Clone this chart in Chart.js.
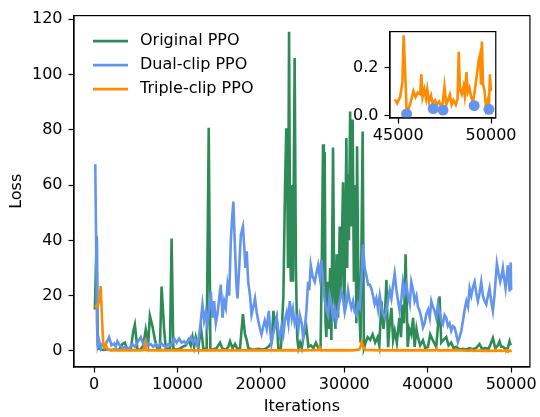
<!DOCTYPE html>
<html>
<head>
<meta charset="utf-8">
<script src="https://cdn.jsdelivr.net/npm/chart.js@4.4.0/dist/chart.umd.min.js"></script>
<style>
  body { margin: 0; background: #fff; }
  #wrap { position: relative; width: 540px; height: 417px; }
  #main { position: absolute; left: 0; top: 0; }
  #inset { position: absolute; left: 330px; top: 16px; }
</style>
</head>
<body>
<div id="wrap">
  <canvas id="main" width="540" height="417"></canvas>
  <canvas id="inset" width="190" height="134"></canvas>
</div>
<script>
// [iteration, loss] pairs
const originalPPO = [
  [100, 15], [320, 41.5], [450, 2], [600, 0.8], [900, 0.5], [1200, 0.4], [1500, 0.6], [2000, 0.3],
  [2500, 0.5], [3000, 0.4], [3400, 2.5], [3700, 3], [4000, 0.5], [4400, 0.4], [4700, 7], [4900, 9.5],
  [5200, 0.5], [5600, 0.6], [5900, 2], [6200, 7.8], [6500, 3], [6700, 12.7], [7000, 9], [7300, 4],
  [7600, 0.6], [7900, 1], [8100, 23.3], [8400, 8], [8600, 1], [8900, 0.8], [9100, 0.6], [9300, 40.7],
  [9500, 1], [9800, 0.5], [10200, 0.7], [10600, 1.5], [11000, 2], [11300, 4], [11600, 2], [11800, 5],
  [12000, 1.5], [12200, 5], [12500, 1], [12800, 8.5], [13100, 1], [13500, 0.5], [13750, 80.7], [13950, 0.5],
  [14300, 0.6], [14700, 1], [15100, 3], [15400, 0.8], [15800, 0.5], [16100, 1.5], [16300, 3.5], [16600, 1],
  [16900, 2.5], [17200, 0.6], [17500, 1], [17850, 13.3], [18100, 6], [18300, 4], [18500, 1], [18900, 0.6],
  [19300, 0.5], [19700, 0.8], [20100, 0.5], [20500, 0.7], [20900, 1.5], [21300, 3], [21500, 14.5], [21700, 9.7],
  [21900, 12], [22100, 0.5], [22400, 0.8], [22700, 20], [22900, 60], [23050, 80.5], [23150, 69], [23250, 30],
  [23380, 115.5], [23500, 40], [23600, 25], [23700, 60], [23850, 25], [24050, 106], [24200, 30], [24350, 5],
  [24500, 1], [24700, 3], [24900, 1], [25100, 5], [25450, 8.5], [25700, 1.5], [26000, 2], [26300, 1],
  [26600, 3], [26900, 1], [27150, 0.5], [27300, 30], [27450, 74.8], [27550, 25], [27650, 72], [27750, 10],
  [27850, 5], [28000, 25], [28150, 8], [28300, 30], [28450, 4], [28650, 73.6], [28800, 20], [28950, 8],
  [29100, 35], [29250, 12], [29450, 45], [29600, 20], [29850, 61], [30000, 15], [30150, 50], [30250, 77],
  [30350, 30], [30450, 64], [30550, 40], [30700, 86.6], [30850, 45], [31000, 83.7], [31150, 25], [31300, 60],
  [31450, 10], [31530, 74], [31650, 35], [31800, 15], [31950, 3], [32100, 50], [32200, 79.4], [32350, 1],
  [32550, 3], [32800, 5], [33100, 4], [33400, 6], [33700, 3], [34000, 5], [34200, 2], [34450, 18],
  [34700, 8], [34900, 15], [35050, 25.7], [35250, 1.4], [35450, 10], [35650, 15.6], [35850, 4], [36050, 7.3],
  [36300, 3], [36600, 12], [36800, 5], [36960, 16.8], [37150, 10], [37350, 35], [37600, 1.4], [37800, 8],
  [38030, 6], [38250, 12], [38430, 1.5], [38650, 8], [38830, 5], [39100, 2], [39430, 3.8], [39700, 1],
  [40030, 1.5], [40300, 6], [40620, 3.8], [41020, 1.5], [41250, 10], [41420, 19.8], [41620, 3], [41900, 4],
  [42220, 5], [42500, 2], [42820, 3], [43100, 1], [43420, 1.5], [43820, 0.5], [44200, 0.8], [44600, 0.5],
  [45000, 1], [45400, 0.6], [45800, 1], [46210, 2.5], [46500, 0.8], [46900, 1], [47300, 0.7], [47600, 3],
  [47810, 4.7], [48100, 1], [48400, 2], [48610, 3.5], [48800, 1.5], [49010, 1.5], [49300, 0.8], [49600, 1],
  [49810, 3.5], [49950, 2]
];

const dualClipPPO = [
  [150, 67.5], [250, 40], [350, 10], [450, 2], [600, 3.8], [800, 1], [1000, 2.5], [1200, 1.5],
  [1500, 3], [1800, 5], [2100, 2], [2400, 2.7], [2600, 1.5], [2800, 3.5], [3100, 2], [3400, 1],
  [3700, 1.5], [4000, 0.8], [4300, 1.2], [4600, 2.5], [4900, 1.5], [5200, 3], [5600, 5], [5900, 2.5],
  [6200, 4], [6500, 2], [6800, 2.5], [7100, 1.5], [7400, 2.5], [7700, 1.5], [8000, 3], [8300, 2],
  [8600, 1.5], [8900, 2.5], [9200, 2], [9600, 4.5], [9900, 3], [10200, 4.5], [10500, 3], [10800, 3.5],
  [11100, 2.5], [11400, 4], [11600, 5], [11900, 3], [12100, 4.5], [12400, 2], [12700, 8], [13000, 16.8],
  [13200, 11], [13400, 14], [13600, 9], [13800, 16], [14000, 21.5], [14200, 12], [14400, 18], [14600, 10],
  [14800, 13.4], [15000, 19], [15200, 24], [15400, 12], [15600, 18], [15800, 15.6], [16000, 24], [16200, 20],
  [16400, 40], [16550, 48], [16700, 54], [16900, 37], [17050, 25], [17200, 19], [17400, 30], [17600, 42],
  [17850, 45], [18000, 38], [18150, 30], [18300, 36], [18480, 25], [18700, 20], [18880, 13], [19100, 16],
  [19300, 19], [19500, 14], [19680, 11], [19900, 8], [20080, 6], [20300, 9], [20470, 11], [20700, 8],
  [20950, 14.5], [21100, 8], [21270, 2.7], [21450, 6], [21670, 8.5], [21900, 12], [22100, 7], [22270, 5],
  [22500, 9], [22700, 6], [22870, 11], [23100, 14], [23300, 10], [23460, 18], [23700, 12], [23850, 15],
  [24060, 9.8], [24300, 12], [24500, 8], [24660, 13], [24900, 10], [25060, 5], [25260, 8.5], [25450, 14],
  [25660, 25], [25800, 22], [25980, 31], [26200, 27], [26460, 25], [26650, 28], [26860, 31], [27050, 27],
  [27260, 33], [27450, 25], [27660, 18], [27850, 15], [28050, 13], [28250, 20], [28450, 17], [28650, 12],
  [28850, 15], [29050, 11], [29250, 15], [29450, 18], [29650, 21.5], [29850, 19], [30050, 14], [30250, 17],
  [30450, 22], [30650, 18], [30850, 15.6], [31050, 18], [31250, 14], [31450, 13], [31650, 17], [31850, 15.6],
  [32050, 25], [32240, 38.5], [32450, 30], [32640, 27.5], [32850, 24], [33040, 24], [33240, 22.7], [33450, 20],
  [33640, 17], [33840, 19], [34050, 15], [34250, 20], [34450, 16], [34640, 13.4], [34850, 12], [35050, 15],
  [35240, 18], [35450, 22], [35650, 19], [35850, 24], [36040, 28], [36250, 22], [36450, 18], [36630, 14.5],
  [36850, 19], [37030, 25], [37250, 21], [37450, 24], [37630, 20], [37850, 17], [38030, 25], [38250, 22],
  [38430, 18], [38650, 20], [38830, 16], [39030, 14.5], [39230, 12], [39430, 8.5], [39630, 10], [39830, 13.3],
  [40050, 15], [40250, 12], [40430, 18], [40620, 16], [40820, 14.5], [41020, 12], [41220, 16.8], [41420, 14],
  [41620, 11], [41820, 9.7], [42020, 13], [42220, 12], [42420, 9], [42620, 10], [42820, 7.3], [43020, 9],
  [43220, 8.5], [43420, 6], [43620, 3.2], [43820, 5], [44030, 7.3], [44230, 11], [44430, 15], [44630, 18],
  [44830, 16], [45020, 22.7], [45220, 20], [45420, 23], [45620, 25], [45820, 21], [46010, 18], [46220, 21],
  [46420, 25], [46620, 20], [46820, 18], [47020, 16.8], [47220, 20], [47410, 22.7], [47610, 18], [47810, 14.5],
  [48000, 20], [48150, 26], [48290, 31.6], [48490, 28], [48690, 25], [48850, 27], [49010, 30], [49170, 26],
  [49330, 22.7], [49470, 27], [49610, 31], [49810, 21.5], [49900, 25], [49950, 32], [50000, 22]
];

const tripleClipEarly = [
  [100, 16.5], [300, 16], [500, 17], [650, 18], [800, 23.5], [950, 12], [1100, 3], [1250, 1.5],
  [1400, 2.5], [1600, 0.5], [2000, 0.3], [2600, 0.2], [3300, 0.3], [4000, 0.2], [4800, 0.3], [5500, 0.2],
  [6000, 0.3], [6150, 2.8], [6300, 0.3], [7000, 0.2], [8000, 0.3], [9000, 0.2], [10000, 0.3], [11500, 0.2],
  [13000, 0.2], [14500, 0.3], [16000, 0.2], [17500, 0.2], [19000, 0.3], [20500, 0.2], [22000, 0.2], [23500, 0.3],
  [25000, 0.2], [26500, 0.3], [26900, 0.3], [27050, 1.3], [27200, 0.3], [28000, 0.2], [29500, 0.3], [31000, 0.2],
  [31800, 0.5], [32000, 2], [32100, 3.2], [32250, 1.5], [32500, 0.4], [33500, 0.3], [35000, 0.2], [36500, 0.3],
  [38000, 0.2], [39500, 0.3], [40900, 0.2], [41050, 0.8], [41200, 0.2], [42500, 0.3], [44000, 0.2]
];

// last part of the triple-clip curve, as seen in the inset
const tripleClipLate = [
  [44820, 0.068], [44940, 0.052], [45100, 0.078], [45225, 0.141], [45290, 0.335], [45380, 0.167], [45450, 0.014],
  [45575, 0.033], [45700, 0.065], [45815, 0.103], [45930, 0.078], [46050, 0.097], [46180, 0.09], [46245, 0.173],
  [46310, 0.078], [46410, 0.11], [46500, 0.071], [46565, 0.11], [46660, 0.059], [46770, 0.084], [46850, 0.052],
  [46980, 0.065], [47090, 0.046], [47200, 0.059], [47300, 0.04], [47395, 0.052], [47490, 0.122], [47585, 0.046],
  [47680, 0.065], [47780, 0.088], [47875, 0.046], [47970, 0.065], [48100, 0.046], [48195, 0.071], [48260, 0.266],
  [48325, 0.11], [48420, 0.09], [48515, 0.122], [48580, 0.084], [48675, 0.182], [48740, 0.097], [48835, 0.116],
  [48930, 0.078], [49025, 0.052], [49120, 0.103], [49250, 0.179], [49330, 0.23], [49410, 0.256], [49455, 0.129],
  [49505, 0.309], [49570, 0.129], [49650, 0.103], [49730, 0.033], [49810, 0.059], [49880, 0.021], [49940, 0.173],
  [49990, 0.103]
];

const insetMarks = [[45450, 0.008], [46885, 0.03], [47410, 0.024], [49090, 0.042], [49885, 0.027]];

const seriesNames = ['Original PPO', 'Dual-clip PPO', 'Triple-clip PPO'];
const xTicks = [0, 10000, 20000, 30000, 40000, 50000];
const yTicks = [0, 20, 40, 60, 80, 100, 120];
const insetXTicks = [45000, 50000];
const insetYTicks = [0, 0.2];

const GREEN = '#2e8b57', BLUE = '#6495ed', ORANGE = '#ff8c00';
const FONT = { family: "'DejaVu Sans'", size: 16 };
const LW = 2.6;

const toXY = arr => arr.map(p => ({ x: p[0], y: p[1] }));

const frame = {
  id: 'frame',
  beforeDraw(chart, args, opts) {
    if (!opts.fill) return;
    const a = chart.chartArea, ctx = chart.ctx;
    ctx.save();
    ctx.fillStyle = '#fff';
    ctx.fillRect(a.left, a.top, a.right - a.left, a.bottom - a.top);
    ctx.restore();
  },
  afterDraw(chart) {
    const a = chart.chartArea, ctx = chart.ctx;
    ctx.save();
    ctx.strokeStyle = '#000';
    ctx.lineWidth = 1.2;
    ctx.strokeRect(a.left, a.top, a.right - a.left, a.bottom - a.top);
    ctx.restore();
  }
};

const lineLegend = {
  id: 'lineLegend',
  afterDraw(chart) {
    const a = chart.chartArea, ctx = chart.ctx;
    const colors = [GREEN, BLUE, ORANGE];
    ctx.save();
    ctx.font = FONT.size + 'px ' + FONT.family;
    ctx.textBaseline = 'middle';
    seriesNames.forEach((name, i) => {
      const y = a.top + 25.5 + i * 24;
      ctx.strokeStyle = colors[i];
      ctx.lineWidth = LW;
      ctx.beginPath();
      ctx.moveTo(a.left + 19, y);
      ctx.lineTo(a.left + 54, y);
      ctx.stroke();
      ctx.fillStyle = '#000';
      ctx.fillText(name, a.left + 66, y);
    });
    ctx.restore();
  }
};

const tickSetter = list => scale => { scale.ticks = list.map(v => ({ value: v })); };
const gridOpts = { drawOnChartArea: false, tickLength: 5.5, tickColor: '#000', tickWidth: 1.2 };
const borderOpts = { color: '#000', width: 1.2 };

new Chart(document.getElementById('main'), {
  type: 'line',
  data: {
    datasets: [
      { label: seriesNames[0], data: toXY(originalPPO), borderColor: GREEN, order: 3 },
      { label: seriesNames[1], data: toXY(dualClipPPO), borderColor: BLUE, order: 2 },
      { label: seriesNames[2], data: toXY(tripleClipEarly.concat(tripleClipLate)), borderColor: ORANGE, order: 1 }
    ]
  },
  options: {
    responsive: false,
    animation: false,
    layout: { padding: { top: 9, right: 10, left: 0, bottom: 0 } },
    elements: {
      line: { borderWidth: LW, tension: 0 },
      point: { radius: 0 }
    },
    plugins: { legend: { display: false }, tooltip: { enabled: false } },
    scales: {
      x: {
        type: 'linear', min: -2400, max: 52250,
        afterBuildTicks: tickSetter(xTicks),
        afterFit: s => { s.height = 50; },
        grid: gridOpts,
        border: borderOpts,
        ticks: { padding: 3, maxRotation: 0, color: '#000', font: FONT, callback: v => String(v) },
        title: { display: true, text: 'Iterations', color: '#000', font: FONT, padding: { top: 0, bottom: 1 } }
      },
      y: {
        type: 'linear', min: -5.8, max: 121.3,
        afterBuildTicks: tickSetter(yTicks),
        afterFit: s => { s.width = 74; },
        grid: gridOpts,
        border: borderOpts,
        ticks: { padding: 6, color: '#000', font: FONT, callback: v => String(v) },
        title: { display: true, text: 'Loss', color: '#000', font: FONT, padding: { top: 7, bottom: 0 } }
      }
    }
  },
  plugins: [frame, lineLegend]
});

new Chart(document.getElementById('inset'), {
  type: 'line',
  data: {
    datasets: [
      { label: 'Dual-clip PPO', data: toXY(insetMarks), showLine: false, pointRadius: 5.5,
        pointBackgroundColor: BLUE, pointBorderWidth: 0, order: 1 },
      { label: 'Triple-clip PPO', data: toXY(tripleClipLate), borderColor: ORANGE, borderWidth: LW,
        pointRadius: 0, tension: 0, order: 2 }
    ]
  },
  options: {
    responsive: false,
    animation: false,
    layout: { padding: { top: 8, right: 11, left: 0, bottom: 0 } },
    plugins: { legend: { display: false }, tooltip: { enabled: false }, frame: { fill: true } },
    scales: {
      x: {
        type: 'linear', min: 44555, max: 50254,
        afterBuildTicks: tickSetter(insetXTicks),
        afterFit: s => { s.height = 32; },
        grid: gridOpts,
        border: borderOpts,
        ticks: { padding: 3, maxRotation: 0, color: '#000', font: FONT, callback: v => String(v) }
      },
      y: {
        type: 'linear', min: -0.009, max: 0.35,
        afterBuildTicks: tickSetter(insetYTicks),
        afterFit: s => { s.width = 60; },
        grid: gridOpts,
        border: borderOpts,
        ticks: { padding: 6, color: '#000', font: FONT, callback: v => v.toFixed(1) }
      }
    }
  },
  plugins: [frame]
});
</script>
</body>
</html>
